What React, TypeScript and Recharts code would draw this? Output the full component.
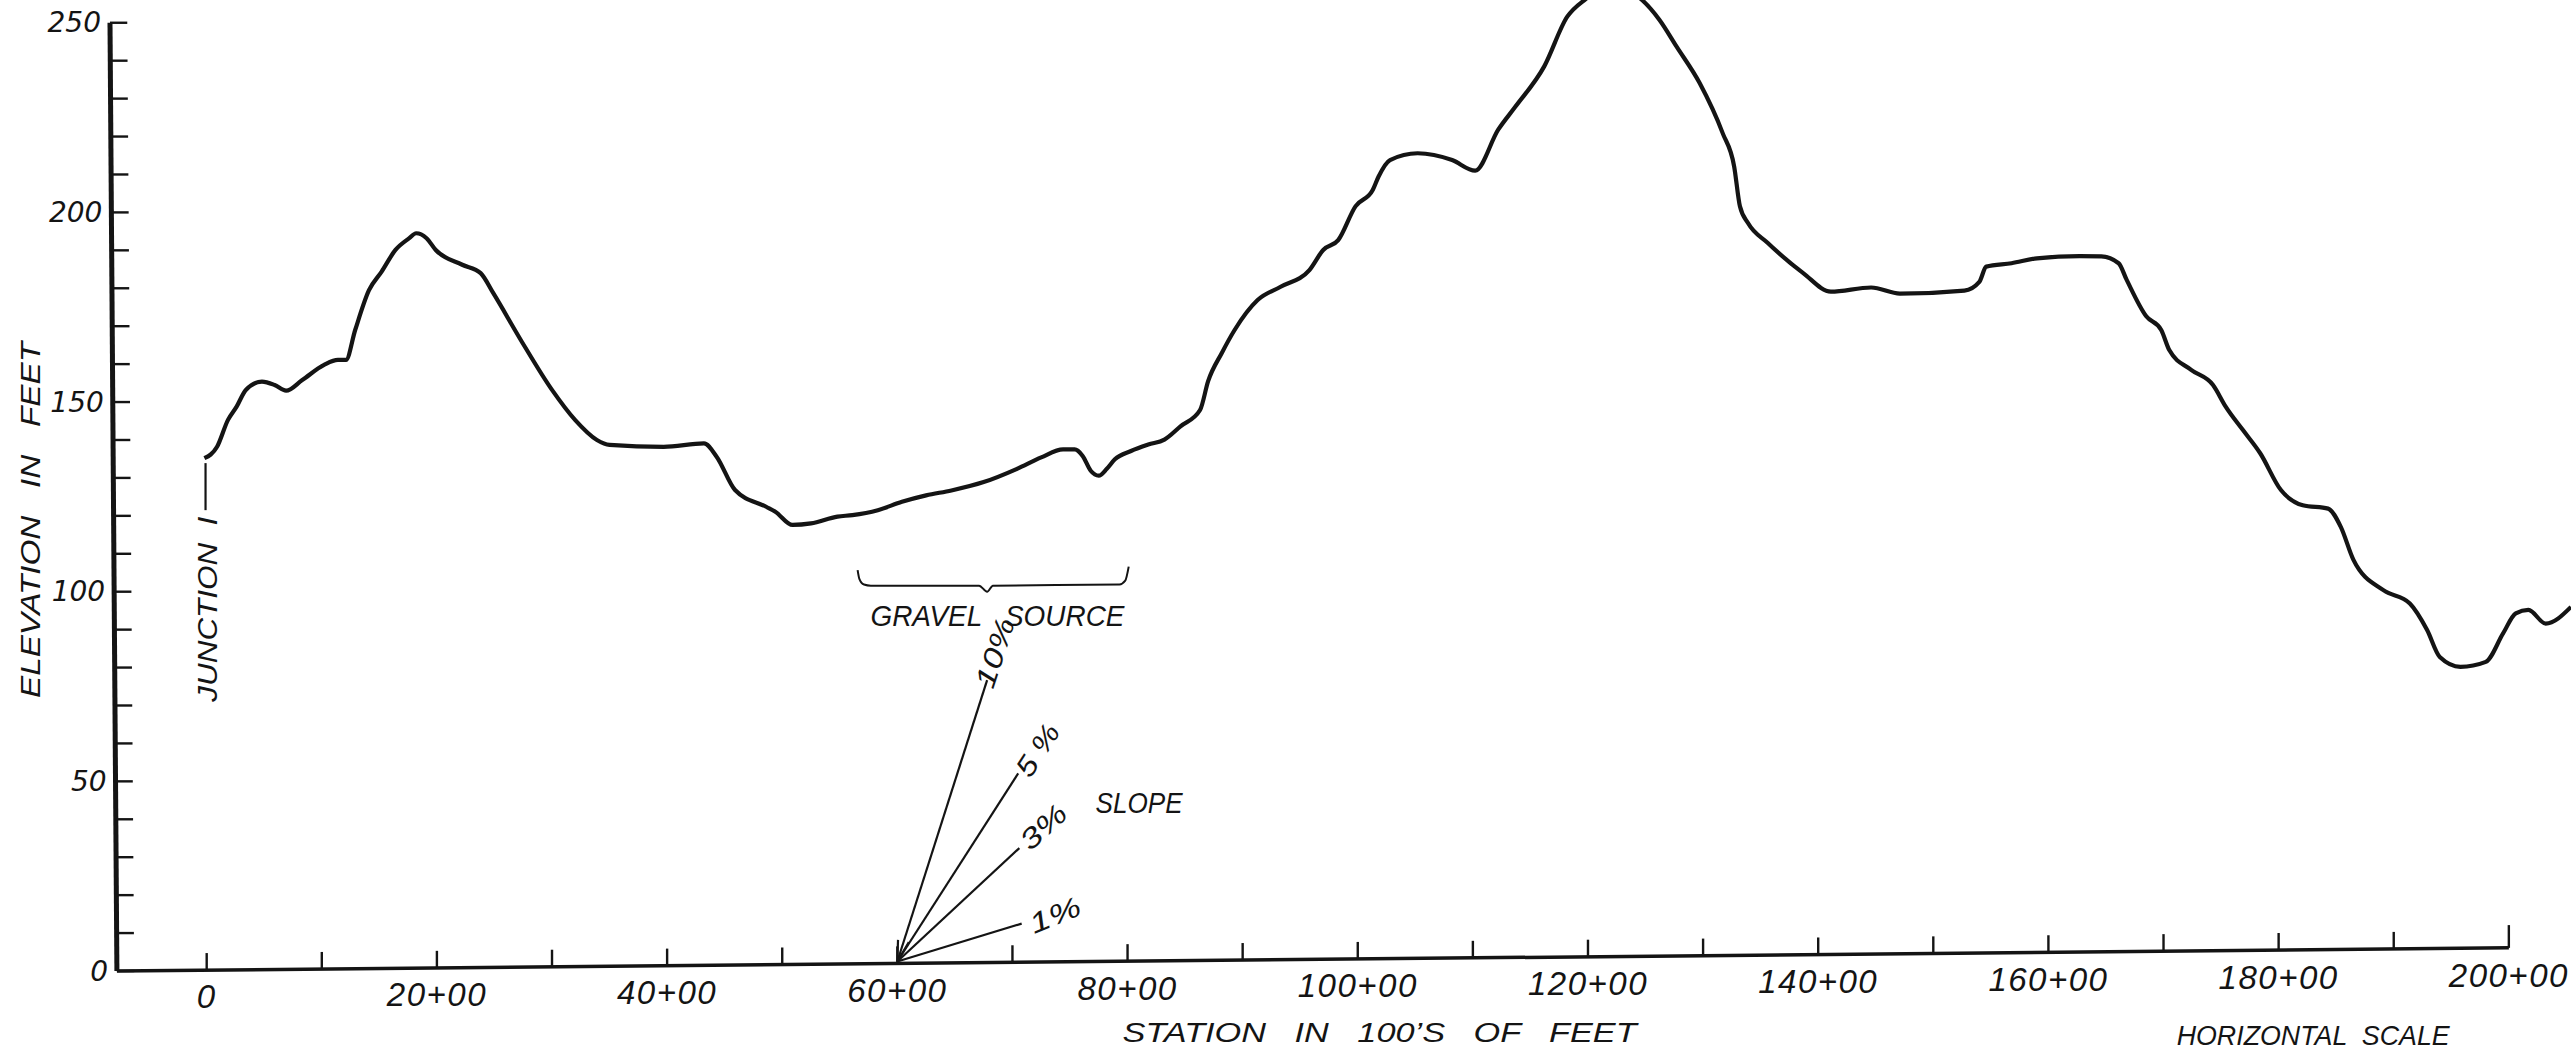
import React from 'react';
import {
  ComposedChart,
  Line,
  XAxis,
  YAxis,
  ReferenceLine,
  ReferenceDot,
} from 'recharts';

/* ─── Profile: station (100's of feet) and elevation (feet) ───────────── */

const STATION = [
  -0.2, 0.9, 1.85, 2.6, 3.4, 4.8, 5.9, 6.9, 8.3, 10.2, 11.4, 12.1, 12.9, 14.1,
  15.2, 16.4, 17.6, 18.2, 19.1, 19.9, 22.2, 23.8, 24.9, 27.3, 30.0, 32.0, 33.9,
  35.0, 39.7, 43.2, 44.3, 45.9, 48.6, 49.4, 50.9, 52.5, 54.8, 56.1, 58.3, 60.4,
  62.5, 64.7, 67.5, 70.4, 72.5, 74.4, 75.4, 76.1, 76.8, 77.5, 78.2, 78.9, 80.3,
  81.8, 83.2, 84.6, 86.3, 87.0, 88.2, 89.3, 91.3, 93.3, 95.8, 97.0, 98.3, 99.8,
  101.3, 101.8, 102.8, 105.2, 108.2, 110.2, 112.2, 113.7, 116.2, 118.2, 119.7,
  121.5, 123.2, 124.7, 126.2, 127.7, 129.7, 131.7, 132.7, 133.2, 133.9, 135.6,
  138.7, 141.1, 144.6, 147.1, 152.7, 154.0, 154.6, 156.8, 159.0, 162.7, 164.6,
  166.1, 166.8, 168.5, 169.8, 170.5, 172.4, 174.3, 175.4, 176.9, 178.4, 180.2,
  182.1, 184.3, 185.4, 186.5, 189.1, 191.4, 192.9, 194.0, 195.8, 198.0, 199.5,
  200.6, 201.7, 203.2, 205.4,
];

const ELEVATION = [
  135.2, 138.2, 145.3, 148.8, 153.2, 155.4, 154.5, 153.0, 155.8, 159.8, 161.1,
  161.1, 169.0, 179.5, 184.4, 190.1, 193.2, 194.5, 193.2, 190.1, 186.2, 184.0,
  178.7, 166.3, 153.2, 145.3, 140.0, 138.7, 138.2, 139.1, 135.6, 126.8, 122.4,
  121.1, 117.6, 118.0, 119.8, 120.2, 121.5, 123.7, 125.4, 126.7, 128.9, 132.4,
  135.4, 137.5, 137.5, 135.8, 131.9, 130.6, 132.4, 134.9, 137.1, 138.8, 140.1,
  143.6, 147.9, 155.5, 163.0, 169.0, 176.9, 180.4, 184.8, 190.1, 192.7, 201.6,
  205.9, 209.4, 213.8, 215.6, 213.8, 211.0, 221.8, 227.9, 238.5, 251.6, 256.0,
  259.0, 259.0, 256.0, 250.8, 243.7, 234.1, 220.9, 212.1, 201.6, 197.2, 192.0,
  184.0, 179.1, 180.2, 178.6, 179.4, 181.7, 185.7, 186.6, 187.9, 188.5, 188.4,
  186.6, 182.2, 172.6, 169.0, 163.7, 158.5, 154.5, 148.8, 142.6, 136.5, 126.8,
  122.8, 121.9, 117.1, 108.4, 100.4, 96.9, 89.9, 82.8, 80.2, 81.5, 89.0, 94.3,
  95.2, 91.6, 96.0,
];

const PROFILE = STATION.map((x, i) => ({ x, y: ELEVATION[i] }));

/* ─── Scales ──────────────────────────────────────────────────────────── */

const X_LABELS = [0, 20, 40, 60, 80, 100, 120, 140, 160, 180, 200];
const X_TICKS = [
  0, 10, 20, 30, 40, 50, 60, 70, 80, 90, 100, 110, 120, 130, 140, 150, 160, 170,
  180, 190, 200,
];
const Y_LABELS = [0, 50, 100, 150, 200, 250];
const Y_TICKS = [
  0, 10, 20, 30, 40, 50, 60, 70, 80, 90, 100, 110, 120, 130, 140, 150, 160, 170,
  180, 190, 200, 210, 220, 230, 240, 250,
];

// the sheet is scanned a little askew: the axes are not quite square
const AXIS_FOOT = { x: -7.8, y: 0 };
const AXIS_TOP = { x: -8.4, y: 250 };
const BASE_END = { x: 200, y: 6.1 };

/* ─── Slope fan, gravel bracket, junction leader ─────────────────────── */

const SLOPE_FOOT = { x: 60, y: 2.5 };
const SLOPE_END_X = [67.8, 70.5, 70.6, 70.8];
const SLOPE_END_Y = [76.7, 52.1, 32.4, 12.5];
const ARROW_X = [60.06, 60, 61.0];
const ARROW_Y = [8.2, 2.5, 7.6];

const BRACE_X = [56.55, 56.7, 57.1, 57.7, 67.1, 67.8, 68.3, 79.3, 79.8, 80.1];
const BRACE_Y = [105.7, 103.4, 101.9, 101.6, 101.6, 100.0, 101.6, 101.9, 102.9, 106.6];

const JUNCTION_X = [-0.1, -0.1];
const JUNCTION_Y = [133.9, 121.5];

const toRows = (xs: number[], ys: number[]) => xs.map((x, i) => ({ x, y: ys[i] }));

const INK = '#141414';
const FONT = '"Liberation Sans", Arial, sans-serif';

const baseAt = (s: number) =>
  AXIS_FOOT.y + ((s - AXIS_FOOT.x) / (BASE_END.x - AXIS_FOOT.x)) * (BASE_END.y - AXIS_FOOT.y);
const axisAt = (v: number) => AXIS_FOOT.x + ((AXIS_TOP.x - AXIS_FOOT.x) * v) / AXIS_TOP.y;

/* ─── Lettering ───────────────────────────────────────────────────────── */

const lettering =
  (text: string, size: number, length?: number, angle = 0) =>
  // eslint-disable-next-line @typescript-eslint/no-explicit-any
  (p: any) => {
    const { cx, cy } = p;
    return (
      <text
        x={cx}
        y={cy}
        transform={angle ? `rotate(${angle} ${cx} ${cy})` : undefined}
        textAnchor="middle"
        dominantBaseline="central"
        fontFamily={FONT}
        fontStyle="italic"
        fontSize={size}
        fill={INK}
        textLength={length}
        lengthAdjust="spacingAndGlyphs"
        style={{ whiteSpace: 'pre' }}
      >
        {text}
      </text>
    );
  };

// eslint-disable-next-line @typescript-eslint/no-explicit-any
const StationTick = (props: any) => {
  const { x, y, payload } = props;
  const lift = (x - 117) * 0.0093;
  const v = payload.value;
  return (
    <text
      x={x}
      y={y + 38 - lift}
      textAnchor="middle"
      fontFamily={FONT}
      fontStyle="italic"
      fontSize={33}
      letterSpacing={1.5}
      fill={INK}
    >
      {v === 0 ? '0' : `${v}+00`}
    </text>
  );
};

// eslint-disable-next-line @typescript-eslint/no-explicit-any
const ElevationTick = (props: any) => {
  const { x, y, payload } = props;
  const shift = ((250 - payload.value) / 250) * 7;
  return (
    <text
      x={x - 9 + shift}
      y={y}
      textAnchor="end"
      dominantBaseline="central"
      fontFamily='"DejaVu Sans", sans-serif'
      fontStyle="italic"
      fontSize={28}
      fill={INK}
    >
      {payload.value}
    </text>
  );
};

const SLOPE_NAMES = ['10%', '5 %', '3%', '1%'];

export default function App() {
  return (
    <div style={{ width: 2571, height: 1050, background: '#fff' }}>
      <style>{'body{margin:0}'}</style>
      <ComposedChart
        width={2571}
        height={1050}
        margin={{ top: 0, right: 0, bottom: 0, left: 0 }}
      >
        <XAxis
          type="number"
          dataKey="x"
          domain={[-8.4, 205.4]}
          allowDataOverflow
          ticks={X_LABELS}
          height={79}
          axisLine={false}
          tickLine={false}
          tickSize={0}
          tickMargin={0}
          tick={<StationTick />}
          interval={0}
        />
        <YAxis
          type="number"
          dataKey="y"
          domain={[0, 256]}
          allowDataOverflow
          ticks={Y_LABELS}
          width={110}
          axisLine={false}
          tickLine={false}
          tickSize={0}
          tickMargin={0}
          tick={<ElevationTick />}
          interval={0}
        />

        {/* axes, drawn as segments so they can follow the scan skew */}
        <ReferenceLine
          segment={[AXIS_FOOT, AXIS_TOP]}
          stroke={INK}
          strokeWidth={5}
          ifOverflow="visible"
        />
        <ReferenceLine
          segment={[AXIS_FOOT, BASE_END]}
          stroke={INK}
          strokeWidth={3.5}
          ifOverflow="visible"
        />
        {Y_TICKS.map((v) => (
          <ReferenceLine
            key={`yt${v}`}
            segment={[
              { x: axisAt(v), y: v },
              { x: axisAt(v) + 1.5, y: v },
            ]}
            stroke={INK}
            strokeWidth={2.4}
            ifOverflow="visible"
          />
        ))}
        {X_TICKS.map((s) => (
          <ReferenceLine
            key={`xt${s}`}
            segment={[
              { x: s, y: baseAt(s) },
              { x: s, y: baseAt(s) + (s === 200 ? 6 : 4.5) },
            ]}
            stroke={INK}
            strokeWidth={2.4}
            ifOverflow="visible"
          />
        ))}

        {/* ground profile */}
        <Line
          data={PROFILE}
          dataKey="y"
          type="monotone"
          stroke={INK}
          strokeWidth={4.2}
          dot={false}
          isAnimationActive={false}
        />

        {/* junction leader */}
        <Line
          data={toRows(JUNCTION_X, JUNCTION_Y)}
          dataKey="y"
          type="linear"
          stroke={INK}
          strokeWidth={2.2}
          dot={false}
          isAnimationActive={false}
        />

        {/* gravel source bracket */}
        <Line
          data={toRows(BRACE_X, BRACE_Y)}
          dataKey="y"
          type="monotone"
          stroke={INK}
          strokeWidth={2}
          dot={false}
          isAnimationActive={false}
        />

        {/* slope fan */}
        {SLOPE_END_X.map((ex, i) => (
          <Line
            key={`sl${i}`}
            data={[SLOPE_FOOT, { x: ex, y: SLOPE_END_Y[i] }]}
            dataKey="y"
            type="linear"
            stroke={INK}
            strokeWidth={2.2}
            dot={false}
            isAnimationActive={false}
          />
        ))}
        <Line
          data={toRows(ARROW_X, ARROW_Y)}
          dataKey="y"
          type="linear"
          stroke={INK}
          strokeWidth={2.2}
          dot={false}
          isAnimationActive={false}
        />

        {/* lettering */}
        <ReferenceDot x={-15.26} y={118.9} r={0} ifOverflow="visible"
          shape={lettering('ELEVATION   IN   FEET', 27, 356, -90)} />
        <ReferenceDot x={0.11} y={95.4} r={0} ifOverflow="visible"
          shape={lettering('JUNCTION  I', 27, 185, -90)} />
        <ReferenceDot x={68.7} y={93.6} r={0} ifOverflow="visible"
          shape={lettering('GRAVEL   SOURCE', 29, 254)} />
        <ReferenceDot x={81.0} y={44.3} r={0} ifOverflow="visible"
          shape={lettering('SLOPE', 29, 87)} />
        <ReferenceDot x={68.5} y={83.9} r={0} ifOverflow="visible"
          shape={lettering(SLOPE_NAMES[0], 28, 72, -72)} />
        <ReferenceDot x={72.2} y={58.2} r={0} ifOverflow="visible"
          shape={lettering(SLOPE_NAMES[1], 28, 57, -57)} />
        <ReferenceDot x={72.7} y={38.0} r={0} ifOverflow="visible"
          shape={lettering(SLOPE_NAMES[2], 28, 53, -42)} />
        <ReferenceDot x={73.7} y={14.7} r={0} ifOverflow="visible"
          shape={lettering(SLOPE_NAMES[3], 28, 53, -22)} />
        <ReferenceDot x={101.9} y={-16.1} r={0} ifOverflow="visible"
          shape={lettering('STATION   IN   100\u2019S   OF   FEET', 28, 514)} />
        <ReferenceDot x={183.0} y={-17.1} r={0} ifOverflow="visible"
          shape={lettering('HORIZONTAL  SCALE', 28, 273)} />
      </ComposedChart>
    </div>
  );
}
